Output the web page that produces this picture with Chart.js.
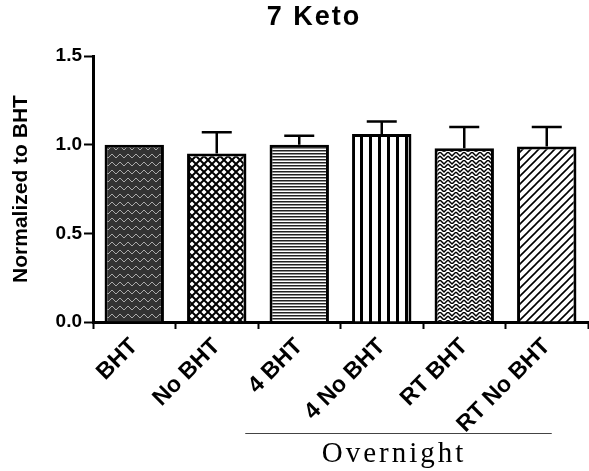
<!DOCTYPE html>
<html>
<head>
<meta charset="utf-8">
<script src="https://cdn.jsdelivr.net/npm/chart.js@4"></script>
<style>
  html, body { margin: 0; padding: 0; background: #fff; }
  #wrap { width: 589px; height: 471px; }
</style>
</head>
<body>
<div id="wrap"><canvas id="myBarChart" width="589" height="471"></canvas></div>
<script>
var categories = ['BHT', 'No BHT', '4 BHT', '4 No BHT', 'RT BHT', 'RT No BHT'];
var means = [1.0, 0.95, 1.0, 1.06, 0.98, 0.99];
var errUp = [0.0, 0.12, 0.05, 0.07, 0.12, 0.11];
var yTicks = [0.0, 0.5, 1.0, 1.5];
var groupLabel = 'Overnight';
var groupFrom = 2, groupTo = 5; // categories under "Overnight"

// little tiles used as bar fills
function makePattern(kind) {
  var c = document.createElement('canvas');
  var s = 8;
  c.width = s; c.height = s;
  var g = c.getContext('2d');
  g.fillStyle = '#fff';
  g.fillRect(0, 0, s, s);
  g.strokeStyle = '#000';
  g.fillStyle = '#000';
  if (kind == 'dark') {
    g.fillStyle = '#333';
    g.fillRect(0, 0, s, s);
    g.strokeStyle = '#aaa';
    g.lineWidth = 1;
    g.beginPath(); g.moveTo(0, 2); g.lineTo(4, 6); g.lineTo(8, 2); g.stroke();
  } else if (kind == 'cross') {
    g.lineWidth = 2;
    g.beginPath();
    g.moveTo(0, 0); g.lineTo(8, 8);
    g.moveTo(8, 0); g.lineTo(0, 8);
    g.stroke();
  } else if (kind == 'hlines') {
    c.height = 3;
    g = c.getContext('2d');
    g.fillStyle = '#fff'; g.fillRect(0, 0, 8, 3);
    g.fillStyle = '#222'; g.fillRect(0, 0, 8, 1.5);
  } else if (kind == 'vlines') {
    c.width = 9;
    g = c.getContext('2d');
    g.fillStyle = '#fff'; g.fillRect(0, 0, 9, 8);
    g.fillStyle = '#000'; g.fillRect(0, 0, 3, 8);
  } else if (kind == 'zigzag') {
    g.lineWidth = 1.5;
    g.beginPath();
    g.moveTo(0, 0); g.lineTo(4, 4); g.lineTo(8, 0);
    g.moveTo(0, 4); g.lineTo(4, 8); g.lineTo(8, 4);
    g.stroke();
  } else if (kind == 'diag') {
    g.lineWidth = 1.6;
    g.beginPath();
    g.moveTo(0, 8); g.lineTo(8, 0);
    g.moveTo(-4, 4); g.lineTo(4, -4);
    g.moveTo(4, 12); g.lineTo(12, 4);
    g.stroke();
  }
  var ctx = document.getElementById('myBarChart').getContext('2d');
  return ctx.createPattern(c, 'repeat');
}

var fills = ['dark', 'cross', 'hlines', 'vlines', 'zigzag', 'diag'].map(makePattern);

// error bars (upper only) + title + group label
var extras = {
  id: 'extras',
  afterDatasetsDraw: function (chart) {
    var ctx = chart.ctx;
    var x = chart.scales.x, y = chart.scales.y;
    ctx.save();
    ctx.strokeStyle = '#000';
    ctx.lineWidth = 2.5;
    for (var i = 0; i < means.length; i++) {
      if (!errUp[i]) continue;
      var px = x.getPixelForValue(i);
      var y0 = y.getPixelForValue(means[i]);
      var y1 = y.getPixelForValue(means[i] + errUp[i]);
      ctx.beginPath();
      ctx.moveTo(px, y0); ctx.lineTo(px, y1);
      ctx.moveTo(px - 15, y1); ctx.lineTo(px + 15, y1);
      ctx.stroke();
    }
    ctx.restore();
  },
  afterDraw: function (chart) {
    var ctx = chart.ctx;
    var x = chart.scales.x;
    ctx.save();
    ctx.fillStyle = '#000';
    ctx.textAlign = 'center';
    ctx.font = 'bold 27px "Liberation Sans", Arial, sans-serif';
    ctx.letterSpacing = '2px';
    ctx.fillText('7 Keto', 314, 25);

    var x0 = x.getPixelForValue(groupFrom) - 54;
    var x1 = x.getPixelForValue(groupTo) + 5;
    ctx.strokeStyle = '#444';
    ctx.lineWidth = 1;
    ctx.beginPath();
    ctx.moveTo(x0, 433.5); ctx.lineTo(x1, 433.5);
    ctx.stroke();
    ctx.font = '29px "Liberation Serif", "Times New Roman", serif';
    ctx.letterSpacing = '3px';
    ctx.fillText(groupLabel, 394, 462);
    ctx.restore();
  }
};

document.addEventListener('DOMContentLoaded', function () {
  var ctx = document.getElementById('myBarChart').getContext('2d');
  var fam = '"Liberation Sans", Arial, sans-serif';

  var myBarChart = new Chart(ctx, {
    type: 'bar',
    data: {
      labels: categories,
      datasets: [{
        label: '7 Keto',
        data: means,
        backgroundColor: fills,
        borderColor: '#000',
        borderWidth: 3,
        borderSkipped: 'bottom',
        barPercentage: 0.8,
        categoryPercentage: 0.9
      }]
    },
    options: {
      responsive: false,
      animation: false,
      layout: { padding: { top: 56, left: 0, right: 1, bottom: 0 } },
      plugins: {
        legend: { display: false },
        tooltip: { enabled: false }
      },
      scales: {
        x: {
          grid: { display: true, drawOnChartArea: false, tickLength: 7, tickColor: '#000', tickWidth: 2 },
          border: { color: '#000', width: 3 },
          ticks: { color: '#000', font: { family: fam, size: 23, weight: 'bold' }, minRotation: 45, maxRotation: 45, padding: 4 },
          afterFit: function (s) { s.height = 149; }
        },
        y: {
          min: 0,
          max: 1.5,
          afterBuildTicks: function (s) { s.ticks = yTicks.map(function (v) { return { value: v }; }); },
          grid: { display: true, drawOnChartArea: false, tickLength: 9, tickColor: '#000', tickWidth: 2 },
          border: { color: '#000', width: 3 },
          ticks: {
            color: '#000', font: { family: fam, size: 19, weight: 'bold' }, padding: 2,
            callback: function (v) { return Number(v).toFixed(1); }
          },
          title: {
            display: true,
            text: 'Normalized to BHT',
            color: '#000',
            font: { family: fam, size: 21, weight: 'bold' },
            padding: { top: 9, bottom: 0 }
          },
          afterFit: function (s) { s.width = 93; }
        }
      }
    },
    plugins: [extras]
  });
});
</script>
</body>
</html>
